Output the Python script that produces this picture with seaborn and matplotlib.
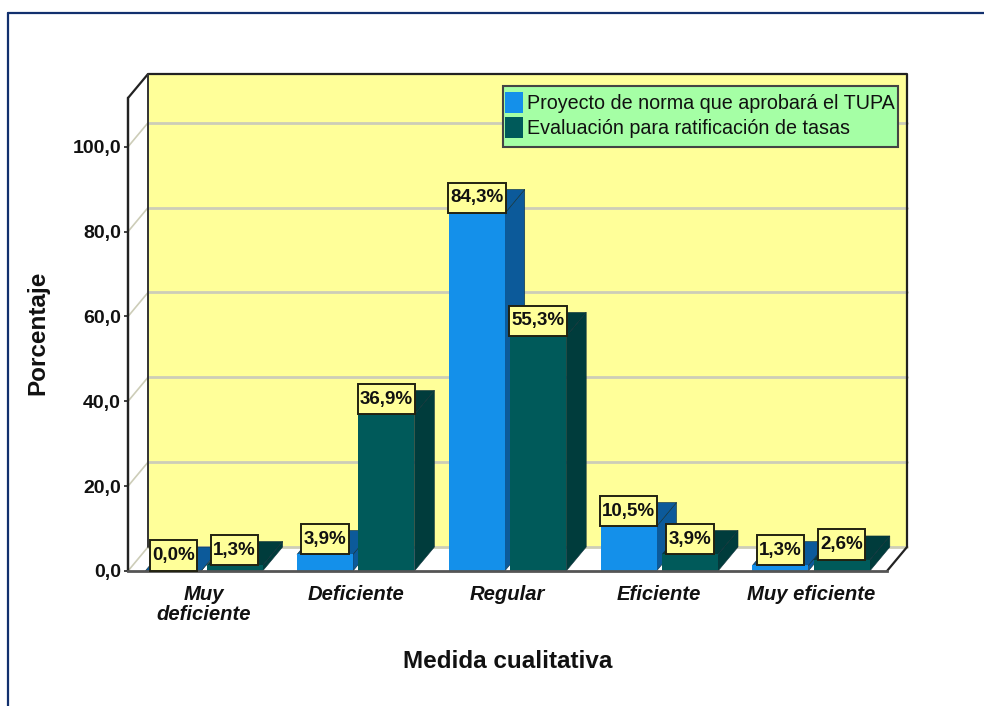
import pandas as pd
import matplotlib
matplotlib.use("Agg")
import matplotlib.pyplot as plt
import seaborn as sns
from matplotlib.lines import Line2D
from matplotlib.patches import Polygon, Rectangle
from matplotlib.path import Path

categories = ["Muy\ndeficiente", "Deficiente", "Regular", "Eficiente", "Muy eficiente"]
serie_names = ["Proyecto de norma que aprobará el TUPA", "Evaluación para ratificación de tasas"]
proyecto = [0.0, 3.9, 84.3, 10.5, 1.3]
evaluacion = [1.3, 36.9, 55.3, 3.9, 2.6]
y_ticks = [0, 20, 40, 60, 80, 100]

FRONT = {serie_names[0]: "#1490EA", serie_names[1]: "#005A5A"}
SIDE = ["#0C5A9A", "#003C3C"]
WALL = "#FFFF99"
GRID = "#CDCDB8"
YMAX = 111.5
# depth of the fake 3D box, in data units
DX = 20 / 151.8
DY = 24 / 4.242

sns.set_theme(style="white")
plt.rcParams["font.family"] = ["Liberation Sans", "DejaVu Sans"]

df = pd.DataFrame({
    "cat": categories * 2,
    "serie": [serie_names[0]] * 5 + [serie_names[1]] * 5,
    "valor": proyecto + evaluacion,
})

fig = plt.figure(figsize=(9.84, 7.06), dpi=100, facecolor="white")
ax = fig.add_axes([128 / 984, 1 - 571 / 706, 759 / 984, 473 / 706])
ax.patch.set_visible(False)

sns.barplot(data=df, x="cat", y="valor", hue="serie", order=categories, hue_order=serie_names,
            palette=FRONT, width=0.81, gap=0.09, saturation=1, errorbar=None, ax=ax, zorder=4,
            linewidth=0)
ax.set_xlim(-0.5, 4.5)
ax.set_ylim(0, YMAX)

x0, x1 = -0.5, 4.5


def poly(pts, **kw):
    ax.add_patch(Polygon(pts, closed=True, clip_on=False, **kw))


def tall_box(x, y, w, h, size):
    # label box with more room above and below than on the sides
    px, py = 0.12 * size, 0.36 * size
    return Path([(x - px, y - py), (x + w + px, y - py), (x + w + px, y + h + py),
                 (x - px, y + h + py), (x - px, y - py)], closed=True)


# walls and floor
poly([(x0, 0), (x0 + DX, DY), (x0 + DX, YMAX + DY), (x0, YMAX)], fc="white", ec="none", zorder=0)
poly([(x0 + DX, DY), (x1 + DX, DY), (x1 + DX, YMAX + DY), (x0 + DX, YMAX + DY)], fc=WALL, ec="none", zorder=0)
poly([(x0, 0), (x1, 0), (x1 + DX, DY), (x0 + DX, DY)], fc="white", ec="none", zorder=0)

for t in y_ticks:
    ax.plot([x0 + DX, x1 + DX], [t + DY, t + DY], color=GRID, lw=2, clip_on=False, zorder=1)
    ax.plot([x0, x0 + DX], [t, t + DY], color=GRID, lw=1.2, clip_on=False, zorder=1)

# outline of the box
ax.plot([x0, x0, x0 + DX, x1 + DX, x1 + DX, x1], [0, YMAX, YMAX + DY, YMAX + DY, DY, 0],
        color="#222222", lw=1.6, clip_on=False, zorder=2)
ax.plot([x0 + DX, x0 + DX], [DY, YMAX + DY], color="#333333", lw=1.4, clip_on=False, zorder=2)

# side and top faces of each bar
for cont, side in zip(ax.containers, SIDE):
    for bar in cont:
        bx, bw, bh = bar.get_x(), bar.get_width(), bar.get_height()
        poly([(bx + bw, 0), (bx + bw + DX, DY), (bx + bw + DX, bh + DY), (bx + bw, bh)],
             fc=side, ec="#10303A", lw=0.4, zorder=3)
        poly([(bx, bh), (bx + DX, bh + DY), (bx + bw + DX, bh + DY), (bx + bw, bh)],
             fc=side, ec="#10303A", lw=0.4, zorder=3)

for cont, vals in zip(ax.containers, [proyecto, evaluacion]):
    labs = [f"{v:.1f}%".replace(".", ",") for v in vals]
    texts = ax.bar_label(cont, labels=labs, padding=5, fontsize=13.5, fontweight="bold", color="#111111",
                         bbox=dict(boxstyle=tall_box, fc=WALL, ec="#222211", lw=1.4))
    for t in texts:
        t.set_zorder(6)

for s in ["top", "right"]:
    ax.spines[s].set_visible(False)
ax.spines["left"].set_color("#222222")
ax.spines["left"].set_linewidth(1.6)
ax.spines["left"].set_zorder(5)
ax.spines["bottom"].set_color("#555555")
ax.spines["bottom"].set_linewidth(2)
ax.spines["bottom"].set_zorder(5)

ax.set_yticks(y_ticks)
ax.set_yticklabels([f"{t:.1f}".replace(".", ",") for t in y_ticks], fontsize=14, fontweight="bold", color="#111111")
ax.tick_params(axis="y", length=3, width=1.2, color="#222222", pad=2, left=True)
ax.tick_params(axis="x", length=0, pad=10)
for lab in ax.get_xticklabels():
    lab.set_fontsize(14.6)
    lab.set_fontweight("bold")
    lab.set_fontstyle("italic")
    lab.set_color("#111111")
    lab.set_linespacing(1.08)

ax.set_xlabel("Medida cualitativa", fontsize=17.5, fontweight="bold", color="#111111")
ax.xaxis.set_label_coords((508 - 128) / 759, -(661 - 571) / 473, transform=ax.transAxes)
ax.xaxis.label.set_va("center")
ax.set_ylabel("Porcentaje", fontsize=17.5, fontweight="bold", color="#111111")
ax.yaxis.set_label_coords((38 - 128) / 759, (571 - 333) / 473, transform=ax.transAxes)
ax.yaxis.label.set_va("center")

# legend frame is drawn apart, the real one cannot have different pads per side
ax.add_patch(Rectangle((503 / 984, 1 - 147 / 706), 395 / 984, 61 / 706, transform=fig.transFigure,
                       fc="#A5FFA5", ec="#444444", lw=1.5, clip_on=False, zorder=6.5))
leg = ax.legend(loc="upper left", bbox_to_anchor=(504 / 984, 1 - 91 / 706), bbox_transform=fig.transFigure,
                fontsize=14.2, frameon=False, handlelength=0.92, handleheight=1.25, handletextpad=0.2,
                borderpad=0.05, borderaxespad=0, labelspacing=0.2)
leg.set_zorder(7)
for text in leg.get_texts():
    text.set_color("#111111")

# navy frame of the output window, runs past the right and bottom edges
for xs, ys in [([8, 984], [13, 13]), ([8, 8], [13, 706])]:
    fig.add_artist(Line2D([x / 984 for x in xs], [1 - y / 706 for y in ys], color="#12306E", lw=1.6))

fig.savefig("out.png", dpi=100)
